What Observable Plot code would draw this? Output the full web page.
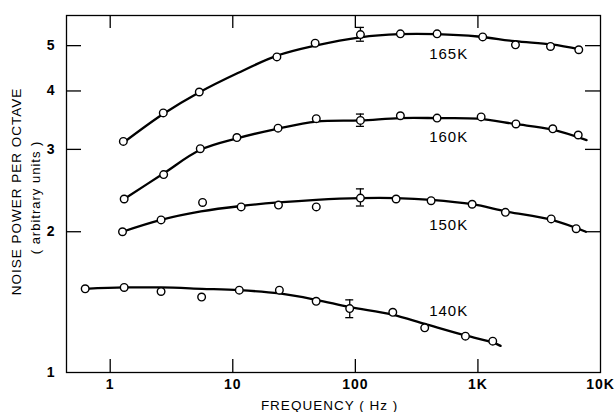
<!DOCTYPE html>
<html><head><meta charset="utf-8">
<script src="https://cdn.jsdelivr.net/npm/d3@7"></script>
<script src="https://cdn.jsdelivr.net/npm/@observablehq/plot@0.6"></script>
<style>
html,body{margin:0;padding:0;background:#fff;}
#chart svg{display:block;}
#chart svg text{letter-spacing:1px;}
#chart [aria-label="x-axis tick label"], #chart [aria-label="y-axis tick label"]{font-weight:bold;letter-spacing:1.6px;}
</style></head><body><div id="chart"></div>
<script>
// ---- data ----
const seriesNames = ["165K", "160K", "150K", "140K"];

const freq165  = [1.28, 2.71, 5.33, 22.9, 47, 110, 233, 464, 1094, 2024, 3910, 6650];
const power165 = [3.12, 3.59, 3.98, 4.73, 5.06, 5.28, 5.30, 5.30, 5.22, 5.02, 4.98, 4.90];
const freq160  = [1.30, 2.73, 5.43, 10.8, 23.4, 48, 110, 233, 464, 1062, 2042, 4080, 6580];
const power160 = [2.35, 2.65, 3.01, 3.18, 3.33, 3.49, 3.46, 3.54, 3.50, 3.52, 3.40, 3.32, 3.22];
const freq150  = [1.26, 2.6, 5.67, 11.7, 23.6, 48, 110, 215, 415, 897, 1676, 3960, 6330];
const power150 = [2.00, 2.12, 2.31, 2.26, 2.28, 2.26, 2.36, 2.35, 2.33, 2.29, 2.20, 2.13, 2.03];
const freq140  = [0.625, 1.30, 2.6, 5.57, 11.3, 24, 47.9, 89.9, 202, 368, 791, 1321];
const power140 = [1.51, 1.52, 1.49, 1.45, 1.50, 1.50, 1.42, 1.37, 1.345, 1.246, 1.196, 1.167];

// fitted curves (traced)
const curveFreq165  = [1.28, 2.7, 5.3, 11, 23, 47, 110, 230, 460, 1000, 2000, 4000, 6800];
const curvePower165 = [3.10, 3.57, 3.97, 4.37, 4.76, 5.00, 5.21, 5.29, 5.29, 5.23, 5.11, 5.03, 4.91];
const curveFreq160  = [1.3, 2.7, 5.4, 11, 23, 48, 110, 230, 460, 1000, 2000, 4000, 7700];
const curvePower160 = [2.35, 2.66, 2.99, 3.17, 3.32, 3.44, 3.46, 3.50, 3.50, 3.49, 3.40, 3.31, 3.14];
const curveFreq150  = [1.26, 2.6, 5.5, 11.7, 23.6, 48, 110, 215, 415, 900, 1700, 4000, 7600];
const curvePower150 = [2.00, 2.12, 2.21, 2.27, 2.31, 2.34, 2.36, 2.36, 2.34, 2.29, 2.21, 2.12, 2.00];
const curveFreq140  = [0.625, 1.3, 2.6, 5.6, 11.3, 24, 48, 90, 200, 370, 790, 1320, 1530];
const curvePower140 = [1.51, 1.52, 1.52, 1.51, 1.50, 1.476, 1.43, 1.38, 1.33, 1.27, 1.20, 1.16, 1.14];

// error bars
const errSeries = ["165K", "160K", "150K", "140K"];
const errFreq   = [110, 110, 110, 90];
const errLow    = [5.11, 3.36, 2.27, 1.31];
const errHigh   = [5.47, 3.57, 2.47, 1.43];

// curve labels
const labelFreq  = [400, 400, 400, 400];
const labelPower = [4.79, 3.19, 2.065, 1.35];

// ticks
const xTickValues = [1, 10, 100, 1000, 10000];
const xTickLabels = ["1", "10", "100", "1K", "10K"];
const xInnerTicks = [1, 10, 100, 1000];
const yTickValues = [1, 2, 3, 4, 5];
const yInnerTicks = [2, 3, 4, 5];

const xTitle = "FREQUENCY ( Hz )";
const yTitle = "NOISE POWER PER OCTAVE";
const yTitle2 = "( arbitrary units )";

// ---- build tables ----
const ptsF = [freq165, freq160, freq150, freq140];
const ptsP = [power165, power160, power150, power140];
const cF = [curveFreq165, curveFreq160, curveFreq150, curveFreq140];
const cP = [curvePower165, curvePower160, curvePower150, curvePower140];
const points = [], curves = [];
seriesNames.forEach((s, k) => {
  ptsF[k].forEach((f, i) => points.push({s, f, p: ptsP[k][i]}));
  cF[k].forEach((f, i) => curves.push({s, f, p: cP[k][i]}));
});
const errs = errFreq.map((f, i) => ({s: errSeries[i], f, lo: errLow[i], hi: errHigh[i]}));
const labels = seriesNames.map((s, i) => ({s, f: labelFreq[i], p: labelPower[i]}));

// ---- layout ----
const W = 615, H = 412, mL = 66, mR = 15, mT = 15, mB = 40;
const FW = W - mL - mR, FH = H - mT - mB;
const xTickLen = 13, yTickLen = 15;
const capF = Math.pow(10, 4 / 122.6);

const chart = Plot.plot({
  width: W, height: H,
  marginLeft: mL, marginRight: mR, marginTop: mT, marginBottom: mB,
  style: {fontFamily: "'Liberation Sans', Arial, sans-serif", fontSize: "13px", color: "black", background: "white"},
  x: {type: "log", domain: [0.44, 10000]},
  y: {type: "log", domain: [1, 5.8]},
  marks: [
    Plot.frame({stroke: "black", strokeWidth: 1.3}),
    Plot.ruleX(xInnerTicks, {insetTop: FH - xTickLen, stroke: "black", strokeWidth: 1.3}),
    Plot.ruleX(xInnerTicks, {insetBottom: FH - xTickLen, stroke: "black", strokeWidth: 1.3}),
    Plot.ruleY(yInnerTicks, {insetRight: FW - yTickLen, stroke: "black", strokeWidth: 1.3}),
    Plot.ruleY(yInnerTicks, {insetLeft: FW - yTickLen, stroke: "black", strokeWidth: 1.3}),
    Plot.axisX({ticks: xTickValues, tickSize: 0, tickPadding: 7, label: null,
      tickFormat: d => xTickLabels[xTickValues.indexOf(d)], fontSize: 14}),
    Plot.axisY({ticks: yTickValues, tickSize: 0, tickPadding: 11, label: null,
      tickFormat: d => String(d), fontSize: 14}),
    Plot.line(curves, {x: "f", y: "p", z: "s", curve: "catmull-rom", stroke: "black", strokeWidth: 2.3}),
    Plot.ruleX(errs, {x: "f", y1: "lo", y2: "hi", stroke: "black", strokeWidth: 1.3}),
    Plot.ruleY(errs, {y: "lo", x1: d => d.f / capF, x2: d => d.f * capF, stroke: "black", strokeWidth: 1.3}),
    Plot.ruleY(errs, {y: "hi", x1: d => d.f / capF, x2: d => d.f * capF, stroke: "black", strokeWidth: 1.3}),
    Plot.dot(points, {x: "f", y: "p", r: 3.8, fill: "white", stroke: "black", strokeWidth: 1.4}),
    Plot.text(labels, {x: "f", y: "p", text: "s", textAnchor: "start", fontSize: 15, fill: "black"}),
    Plot.text([yTitle], {frameAnchor: "left", textAnchor: "middle", lineAnchor: "middle", dx: -50, dy: -2.5, rotate: -90, fontSize: 13.5, fill: "black"}),
    Plot.text([yTitle2], {frameAnchor: "left", textAnchor: "middle", lineAnchor: "middle", dx: -31, dy: 3.5, rotate: -90, fontSize: 13, fill: "black"}),
    Plot.text([xTitle], {frameAnchor: "bottom", textAnchor: "middle", lineAnchor: "middle", dx: -4, dy: 33, fontSize: 13.5, fill: "black"})
  ]
});
document.getElementById("chart").appendChild(chart);
</script>
</body></html>
